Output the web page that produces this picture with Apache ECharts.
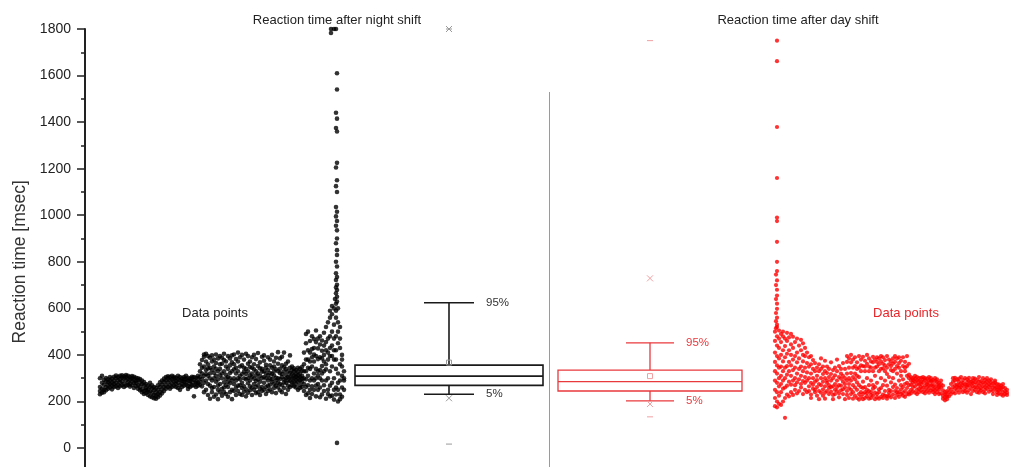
<!DOCTYPE html>
<html><head><meta charset="utf-8">
<script src="https://cdn.jsdelivr.net/npm/echarts@6/dist/echarts.min.js"></script>
<style>html,body{margin:0;padding:0;background:#fff}#c{width:1011px;height:467px}</style>
</head><body><div id="c"></div><script>
// ---------- data ----------
const titles = ['Reaction time after night shift', 'Reaction time after day shift'];
const yAxisName = 'Reaction time [msec]';
const yTicks = [0, 200, 400, 600, 800, 1000, 1200, 1400, 1600, 1800];
const seriesLabels = ['Data points', 'Data points'];
const whiskerLabels = ['95%', '5%'];

// night shift samples: [sample position, [reaction times]]
const nightCols = [
 [100,[245,262,300,231]],[102,[238,280,255,310]],[104,[250,272,293,240]],[106,[262,285,301,248]],
 [108,[270,255,295,283]],[110,[260,290,305,275]],[112,[268,298,282,252]],[114,[275,306,289,262]],
 [116,[280,300,265,311]],[118,[290,272,305,258]],[120,[296,310,281,265]],[122,[287,303,270,312]],
 [124,[299,276,308,262]],[126,[305,290,268,314]],[128,[282,298,310,271]],[130,[293,305,276,264]],
 [132,[300,287,309,270]],[134,[296,279,306,258]],[136,[288,302,266,280]],[138,[292,270,300,255]],
 [140,[280,262,296,248]],[142,[275,252,290,240]],[144,[268,245,283,232]],[146,[258,236,275,250]],
 [148,[250,228,268,242]],[150,[243,222,262,280]],[152,[236,218,255,270]],[154,[228,214,248,262]],
 [156,[225,240,212,258]],[158,[232,218,250,270]],[160,[240,226,262,282]],[162,[252,235,272,290]],
 [164,[262,245,283,298]],[166,[270,290,255,305]],[168,[282,300,262,308]],[170,[290,305,270,255]],
 [172,[296,278,310,262]],[174,[300,285,268,306]],[176,[288,302,262,275]],[178,[280,296,258,310]],
 [180,[291,270,305,250]],[182,[300,276,262,288]],[184,[285,305,268,296]],[186,[296,272,282,310]],
 [188,[290,302,266,254]],[190,[276,298,288,262]],[192,[300,284,268,306]],[194,[292,270,222,305]],
 [196,[285,302,262,278]],[198,[298,280,310,268]],[200,[305,330,285,360,272]],[202,[320,378,296,345,265]],
 [204,[350,392,310,280,402,240]],[206,[335,290,372,250,405,318]],[208,[310,360,228,395,275,342]],
 [210,[345,268,388,212,320,300]],[212,[290,372,240,335,398,258]],[214,[322,262,380,300,220,350]],
 [216,[365,285,340,230,402,310]],[218,[250,330,385,295,268,210]],[220,[340,395,275,312,240,360]],
 [222,[300,255,362,225,388,320]],[224,[378,282,330,260,405,240]],[226,[315,350,232,298,372,270]],
 [228,[262,395,305,340,220,285]],[230,[355,240,322,385,278,300]],[232,[290,368,250,330,210,398]],
 [234,[338,275,402,300,245,360]],[236,[260,320,382,228,345,290]],[238,[372,300,245,410,268,330]],
 [240,[310,390,270,350,232,295]],[242,[280,355,228,318,400,258]],[244,[345,265,380,300,242,328]],
 [246,[295,405,252,340,318,222]],[248,[362,278,330,238,395,300]],[250,[312,248,372,290,348,265]],
 [252,[390,320,260,345,228,305]],[254,[275,338,400,298,250,360]],[256,[330,262,312,382,236,288]],
 [258,[352,295,240,408,320,270]],[260,[285,368,310,255,342,228]],[262,[340,262,392,300,328,245]],
 [264,[305,375,250,330,280,398]],[266,[262,320,358,232,300,345]],[268,[390,290,335,268,312,245]],
 [270,[322,252,380,300,355,272]],[272,[285,345,240,318,400,296]],[274,[350,275,330,258,372,312]],
 [276,[302,388,268,338,236,290]],[278,[330,260,362,300,412,280]],[280,[275,340,296,248,322,385]],
 [282,[355,305,270,392,318,240]],[284,[295,330,258,348,282,410]],[286,[340,280,315,232,362,300]],
 [288,[305,372,268,330,290,250]],[290,[322,288,345,262,305,398]],[292,[300,335,270,318,282,350]],
 [294,[285,312,342,265,300,330]],[296,[318,292,260,335,306,275]],[298,[300,328,285,250,312,345]],
 [300,[290,320,270,305,340,258]],[302,[310,285,332,262,298,348]],[304,[330,300,360,275,410,245]],
 [306,[380,295,450,330,262,490,228]],[308,[310,420,270,380,500,345,235]],[310,[460,340,290,410,250,372,215]],
 [312,[350,480,300,425,265,390,232]],[314,[430,320,372,250,468,290,402]],[316,[300,395,455,268,340,505,222]],
 [318,[382,275,428,330,250,470,312]],[320,[335,445,260,390,300,480,218]],[322,[418,290,352,230,462,320,385]],
 [324,[270,400,330,495,245,372,440]],[326,[360,520,290,420,212,455,338]],[328,[300,470,380,250,540,410,232]],
 [330,[430,330,560,268,480,395,222,590]],[332,[350,500,280,440,575,225,395,610]],
 [334,[470,300,600,380,250,530,420,208]],[336,[560,420,260,590,340,480,230,620,380]],
 [338,[320,540,450,200,600,280,500,250]],[340,[430,290,520,360,230,470,210]],
 [342,[310,400,260,350,220,380]],[344,[290,330,250,300]]
];
const nightHigh = [
 [331,1800],[334,1800],[336,1800],[331,1783],[337,1610],[337,1540],[336,1440],[337,1415],[336,1375],
 [337,1360],[337,1225],[336,1205],[337,1150],[336,1125],[337,1100],[336,1035],[337,1015],[336,995],
 [337,975],[336,955],[337,935],[337,900],[336,880],[337,850],[337,829],[336,800],[337,780],[336,751],
 [337,735],[336,722],[337,701],[336,690],[337,679],[336,665],[337,650],[335,640],[337,629],[337,22]
];

// day shift samples
const dayCols = [
 [775,[180,215,250,290,330,370,410,460,500]],[777,[175,200,240,280,320,355,395,440,480,520]],
 [779,[190,225,265,300,345,385,430,470,505]],[781,[185,240,275,310,350,400,455,490]],
 [783,[200,255,290,330,372,420,480,500]],[785,[215,260,300,345,390,438,470]],
 [787,[230,268,315,352,405,460,495]],[789,[222,285,330,370,420,475]],
 [791,[240,272,310,355,400,445,490]],[793,[228,290,335,380,430,478]],
 [795,[250,300,270,345,395,455]],[797,[235,282,320,368,410,470]],[799,[245,295,340,385,440]],
 [801,[260,310,275,350,420,465]],[803,[232,288,330,372,400,450]],[805,[250,305,280,345,395,430]],
 [807,[240,290,325,365,410]],[809,[265,300,245,350,390]],[811,[230,280,320,360,395,215]],
 [813,[255,300,340,272,378]],[815,[240,285,330,250,365]],[817,[262,310,225,345,292]],
 [819,[245,330,275,210,360]],[821,[270,300,238,340,385]],[823,[252,318,285,225,350]],
 [825,[238,300,265,330,375,212]],[827,[280,245,322,290,350]],[829,[258,305,232,340,270]],
 [831,[242,290,318,262,368]],[833,[265,228,335,300,210]],[835,[250,312,275,345,232]],
 [837,[290,245,330,262,380]],[839,[235,270,305,352,218]],[841,[268,320,248,298,340]],
 [843,[252,285,232,365,310]],[845,[275,340,260,210,300]],[847,[245,320,290,370,228,395]],
 [849,[300,258,345,215,385,275]],[851,[232,368,290,322,250,400]],[853,[345,270,212,380,305,240]],
 [855,[295,225,390,260,352,320]],[857,[368,250,310,215,340,282]],[859,[232,395,270,345,208,305]],
 [861,[330,262,380,220,355,240]],[863,[258,352,210,392,285,232]],[865,[375,240,330,262,215,350]],
 [867,[222,362,250,400,300,235]],[869,[350,212,385,270,245,330]],[871,[240,372,228,345,290,215]],
 [873,[368,255,392,225,330,270]],[875,[210,345,262,380,238,310]],[877,[390,232,350,218,370,280]],
 [879,[252,385,240,330,212,360]],[881,[340,220,372,258,300,395]],[883,[230,362,215,390,270,342]],
 [885,[378,245,330,225,355,290]],[887,[222,395,268,345,212,318]],[889,[360,238,380,250,305,225]],
 [891,[245,352,218,372,282,335]],[893,[385,262,330,230,362,300]],[895,[215,370,245,395,272,340]],
 [897,[352,228,385,258,320,240]],[899,[240,365,220,345,290,390]],[901,[330,252,375,232,310,270]],
 [903,[262,390,238,352,295,225]],[905,[370,245,330,275,220,345]],[907,[232,352,280,395,258,310]],
 [909,[315,240,362,270,300,230]],[911,[250,290,272,305,235]],[913,[280,262,300,245,292]],
 [915,[265,298,238,285,310]],[917,[290,250,275,305,232]],[919,[272,300,255,288,240]],
 [921,[248,285,302,262,275]],[923,[295,260,240,282,305]],[925,[268,292,250,300,235]],
 [927,[282,245,275,298,262]],[929,[255,290,305,270,238]],[931,[300,268,248,285,290]],
 [933,[275,252,292,240,265]],[935,[262,288,232,300,248]],[937,[285,255,272,240,295]],
 [939,[250,280,262,232,268]],[941,[235,260,275,290]],[943,[225,212,248,268]],[945,[218,205,232,240]],
 [947,[228,210,245,220]],[949,[240,222,258]],[951,[250,232,275]],[953,[262,285,240,300]],
 [955,[255,290,270,235,302]],[957,[272,248,295,262]],[959,[285,260,238,298,270]],[961,[250,278,305,262]],
 [963,[268,292,240,280]],[965,[255,300,272,245]],[967,[282,262,295,238,270]],[969,[270,248,288,302]],
 [971,[258,285,232,275]],[973,[290,265,245,300,278]],[975,[262,298,250,282]],[977,[275,240,292,260]],
 [979,[252,285,268,305,238]],[981,[288,258,275,248]],[983,[265,300,240,282]],[985,[278,250,292,262,235]],
 [987,[255,285,270,300]],[989,[290,262,242,275]],[991,[268,295,250,282]],[993,[245,278,260,232]],
 [995,[282,255,290,268]],[997,[260,240,275,250,228]],[999,[272,248,262,235]],[1001,[250,268,230,258]],
 [1003,[262,240,275,225]],[1005,[245,232,258]],[1007,[238,250,228]]
];
const dayHigh = [
 [777,1750],[777,1662],[777,1379],[777,1160],[777,990],[777,975],[777,886],[777,800],[777,760],
 [776,745],[777,720],[776,700],[777,680],[777,655],[776,640],[777,620],[777,598],[776,580],
 [777,560],[776,545],[777,530],[776,515],[785,130]
];

// box statistics: p1, p5, q1, median, q3, p95, p99, min, max, mean
const nightBox = [214, 231, 269, 309, 356, 624, 1800, 17, 1800, 367];
const dayBox   = [189, 203, 245, 285, 335, 452, 729, 134, 1750, 309];

// ---------- build ----------
const toPoints = cols => cols.flatMap(([x, ys]) => ys.map(y => [x, y]));
const nightPoints = toPoints(nightCols).concat(nightHigh);
const dayPoints = toPoints(dayCols).concat(dayHigh);

const FONT = '"Liberation Sans", Arial, sans-serif';
const boxCenters = [449, 650];

function boxRenderer(st) {
  return function (params, api) {
    const cx = api.value(0);
    const v = i => api.value(i);
    const p1 = v(1), p5 = v(2), q1 = v(3), med = v(4), q3 = v(5), p95 = v(6), p99 = v(7), mn = v(8), mx = v(9), mean = v(10);
    const X = api.coord([cx, med])[0];
    const Y = val => api.coord([cx, val])[1];
    const ls = { stroke: st.color, lineWidth: st.lw, fill: null };
    const ms = { stroke: st.mark, lineWidth: 1, fill: null };
    const ch = [];
    ch.push({ type: 'rect', shape: { x: X - st.half, y: Y(q3), width: st.half * 2, height: Y(q1) - Y(q3) }, style: ls });
    ch.push({ type: 'line', shape: { x1: X - st.half, y1: Y(med), x2: X + st.half, y2: Y(med) }, style: ls });
    ch.push({ type: 'line', shape: { x1: X, y1: Y(q3), x2: X, y2: Y(p95) }, style: ls });
    ch.push({ type: 'line', shape: { x1: X, y1: Y(q1), x2: X, y2: Y(p5) }, style: ls });
    ch.push({ type: 'line', shape: { x1: X - st.cap, y1: Y(p95), x2: X + st.cap, y2: Y(p95) }, style: ls });
    ch.push({ type: 'line', shape: { x1: X - st.cap, y1: Y(p5), x2: X + st.cap, y2: Y(p5) }, style: ls });
    ch.push({ type: 'rect', shape: { x: X - 2.5, y: Y(mean) - 2.5, width: 5, height: 5 }, style: ms });
    [p1, p99].forEach(val => {
      const y = Y(val);
      ch.push({ type: 'line', shape: { x1: X - 3, y1: y - 3, x2: X + 3, y2: y + 3 }, style: ms });
      ch.push({ type: 'line', shape: { x1: X - 3, y1: y + 3, x2: X + 3, y2: y - 3 }, style: ms });
    });
    [mn, mx].forEach(val => {
      const y = Y(val);
      ch.push({ type: 'line', shape: { x1: X - 3, y1: y, x2: X + 3, y2: y }, style: ms });
    });
    ch.push({ type: 'text', x: X + st.cap + 12, y: Y(p95), style: { text: whiskerLabels[0], fill: st.label, font: '11.5px ' + FONT, textVerticalAlign: 'middle' } });
    ch.push({ type: 'text', x: X + st.cap + 12, y: Y(p5), style: { text: whiskerLabels[1], fill: st.label, font: '11.5px ' + FONT, textVerticalAlign: 'middle' } });
    return { type: 'group', children: ch };
  };
}

const chart = echarts.init(document.getElementById('c'), null, { renderer: 'canvas' });
chart.setOption({
  animation: false,
  backgroundColor: '#fff',
  grid: { left: 85, right: 0, top: 29, height: 465.6, outerBoundsMode: 'none', containLabel: false },
  xAxis: { type: 'value', min: 85, max: 1011, show: false },
  yAxis: {
    type: 'value', min: -200, max: 1800, interval: 200,
    name: yAxisName, nameLocation: 'middle', nameGap: 56, nameRotate: 90,
    nameTextStyle: { fontSize: 17.5, color: '#333', fontFamily: FONT },
    axisLine: { show: true, lineStyle: { color: '#222', width: 2 } },
    axisTick: { show: true, length: 8, lineStyle: { color: '#222', width: 1.5 } },
    minorTick: { show: true, splitNumber: 2, length: 4, lineStyle: { color: '#222', width: 1.5 } },
    axisLabel: {
      margin: 14, fontSize: 14, color: '#222', fontFamily: FONT,
      formatter: val => yTicks.includes(val) ? String(val) : ''
    },
    splitLine: { show: false }
  },
  graphic: [
    { type: 'text', x: 337, y: 20, style: { text: titles[0], font: '13px ' + FONT, fill: '#222', textAlign: 'center', textVerticalAlign: 'middle' } },
    { type: 'text', x: 798, y: 20, style: { text: titles[1], font: '13px ' + FONT, fill: '#222', textAlign: 'center', textVerticalAlign: 'middle' } },
    { type: 'text', x: 215, y: 313, style: { text: seriesLabels[0], font: '13px ' + FONT, fill: '#222', textAlign: 'center', textVerticalAlign: 'middle' } },
    { type: 'text', x: 906, y: 313, style: { text: seriesLabels[1], font: '13px ' + FONT, fill: '#e8252a', textAlign: 'center', textVerticalAlign: 'middle' } },
    { type: 'line', shape: { x1: 549.5, y1: 92, x2: 549.5, y2: 467 }, style: { stroke: '#9a9a9a', lineWidth: 1 } }
  ],
  series: [
    { type: 'scatter', data: nightPoints, symbolSize: 4.6, itemStyle: { color: '#000' }, silent: true },
    { type: 'scatter', data: dayPoints, symbolSize: 4.2, itemStyle: { color: '#ff0000' }, silent: true },
    { type: 'custom', renderItem: boxRenderer({ color: '#1a1a1a', lw: 1.6, mark: '#999', label: '#333', half: 94, cap: 25 }),
      data: [[boxCenters[0]].concat(nightBox)], silent: true, clip: false },
    { type: 'custom', renderItem: boxRenderer({ color: '#e8393d', lw: 1.3, mark: '#f2a0a2', label: '#e8393d', half: 92, cap: 24 }),
      data: [[boxCenters[1]].concat(dayBox)], silent: true, clip: false }
  ]
});
</script></body></html>
